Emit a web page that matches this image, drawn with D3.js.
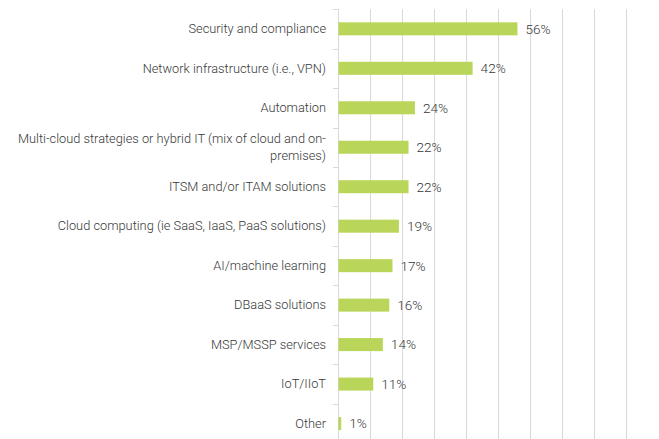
<!DOCTYPE html>
<html>
<head>
<meta charset="utf-8">
<script src="https://cdn.jsdelivr.net/npm/d3@7"></script>
<style>
    body { margin: 0; background: #fff; }
    text { font-family: Roboto, "Liberation Sans", Arial, sans-serif; font-weight: 300; fill: #383838; }
</style>
</head>
<body>
<div id="chart"></div>
<script>
var width = 659;
var height = 439;

// categories, top to bottom
var categories = [
    "Security and compliance",
    "Network infrastructure (i.e., VPN)",
    "Automation",
    "Multi-cloud strategies or hybrid IT (mix of cloud and on-premises)",
    "ITSM and/or ITAM solutions",
    "Cloud computing (ie SaaS, IaaS, PaaS solutions)",
    "AI/machine learning",
    "DBaaS solutions",
    "MSP/MSSP services",
    "IoT/IIoT",
    "Other"
];
var values = [0.56, 0.42, 0.24, 0.22, 0.22, 0.19, 0.17, 0.16, 0.14, 0.11, 0.01];
var gridTicks = [0, 0.1, 0.2, 0.3, 0.4, 0.5, 0.6, 0.7, 0.8, 0.9, 1.0];

var data = categories.map(function (c, i) { return { label: c, value: values[i] }; });

var svg = d3.select("#chart")
    .append("svg")
    .attr("width", width)
    .attr("height", height);

var x = d3.scaleLinear()
    .domain([0, 1])
    .range([338, 658.5]);

var y = d3.scaleBand()
    .domain(categories)
    .range([9.1, 9.1 + categories.length * 39.47])
    .paddingInner(0.67)
    .paddingOuter(0.335);

/*
    vertical gridlines every 10%
*/
svg.selectAll(".grid")
    .data(gridTicks)
    .enter().append("line")
    .attr("class", "grid")
    .attr("x1", function (d) { return Math.round(x(d)) + 0.5; })
    .attr("x2", function (d) { return Math.round(x(d)) + 0.5; })
    .attr("y1", y.range()[0])
    .attr("y2", height)
    .attr("stroke", "#d9d9d9")
    .attr("stroke-width", 1);

/*
    small tick marks between categories on the left of the axis
*/
var boundaries = d3.range(categories.length + 1).map(function (i) {
    return y.range()[0] + i * y.step();
});
svg.selectAll(".ytick")
    .data(boundaries)
    .enter().append("line")
    .attr("class", "ytick")
    .attr("x1", x(0) - 5)
    .attr("x2", x(0))
    .attr("y1", function (d) { return Math.round(d) + 0.5; })
    .attr("y2", function (d) { return Math.round(d) + 0.5; })
    .attr("stroke", "#d9d9d9");

/*
    bars
*/
svg.selectAll(".bar")
    .data(data)
    .enter().append("rect")
    .attr("class", "bar")
    .attr("x", x(0) + 0.5)
    .attr("y", function (d) { return y(d.label); })
    .attr("width", function (d) { return x(d.value) - x(0) - 0.5; })
    .attr("height", y.bandwidth())
    .attr("fill", "#b9d65a");

/*
    value labels
*/
svg.selectAll(".value")
    .data(data)
    .enter().append("text")
    .attr("class", "value")
    .attr("x", function (d) { return x(d.value) + 8; })
    .attr("y", function (d) { return y(d.label) + y.bandwidth() / 2; })
    .attr("dy", "0.36em")
    .style("font-size", "13.6px")
    .text(function (d) { return Math.round(d.value * 100) + "%"; });

/*
    category labels, wrapped when too wide
*/
var labels = svg.selectAll(".label")
    .data(data)
    .enter().append("text")
    .attr("class", "label")
    .attr("text-anchor", "end")
    .style("font-size", "12.8px");

labels.each(function (d) {
    var text = d3.select(this);
    var s = d.label.replace(/-(?=\S)/g, "-\u0000");
    var words = s.split(/[ \u0000]/);
    var seps = [];
    var m, re = /[ \u0000]/g;
    while ((m = re.exec(s)) !== null) seps.push(m[0] === " " ? " " : "");
    var lines = [];
    var line = words[0];
    var probe = text.append("tspan");
    for (var i = 1; i < words.length; i++) {
        var candidate = line + seps[i - 1] + words[i];
        probe.text(candidate);
        if (probe.node().getComputedTextLength() > 318) {
            lines.push(line);
            line = words[i];
        } else {
            line = candidate;
        }
    }
    lines.push(line);
    probe.remove();

    var cy = y(d.label) + y.bandwidth() / 2;
    var lh = 17;
    lines.forEach(function (l, j) {
        text.append("tspan")
            .attr("x", 326)
            .attr("y", cy + 4.3 - (lines.length - 1) * lh / 2 + j * lh)
            .text(l);
    });
});
</script>
</body>
</html>
